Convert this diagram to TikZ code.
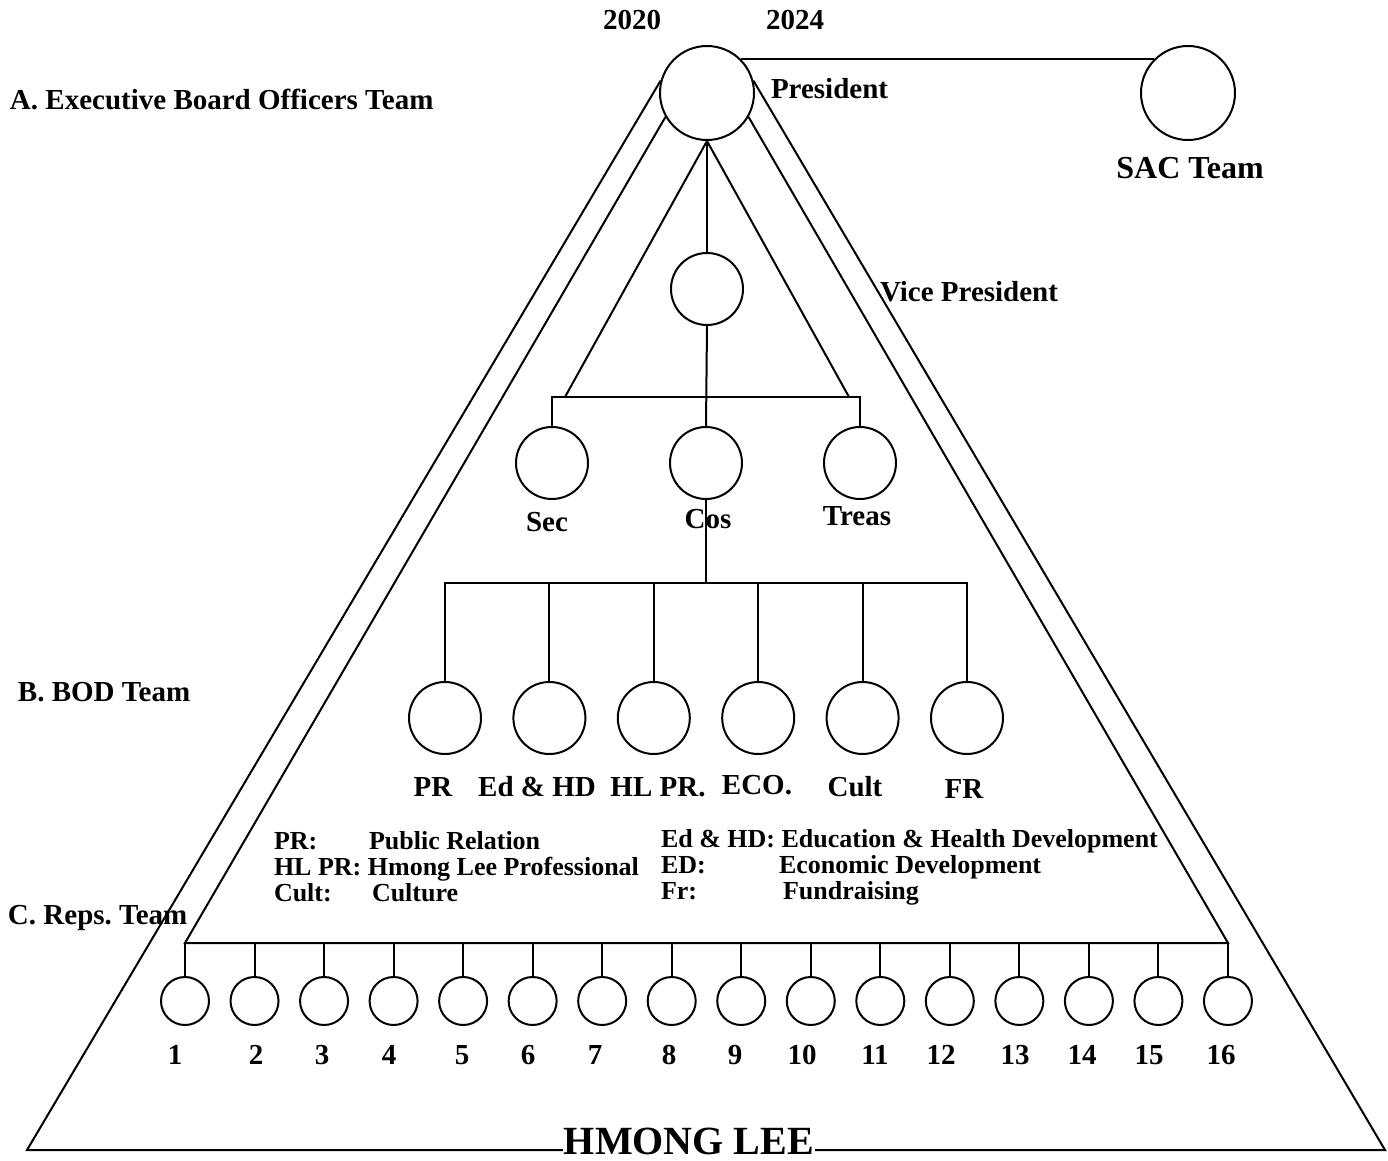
\documentclass[tikz,border=0pt]{standalone}
\usepackage{fontspec}
\setmainfont{Liberation Serif}
\usetikzlibrary{positioning}
\frenchspacing

\begin{document}
\begin{tikzpicture}[x=0.5pt,y=-0.5pt,line width=1pt,node distance=52.2pt,on grid,
    every node/.style={font=\bfseries\fontsize{14.5}{17}\selectfont,inner sep=0pt},
    bigc/.style={circle,draw,minimum size=47pt},
    midc/.style={circle,draw,minimum size=36pt},
    repc/.style={circle,draw,minimum size=24pt},
    lft/.style={anchor=west},
    legend/.style={anchor=base west,font=\bfseries\fontsize{13}{15}\selectfont}]

        \useasboundingbox (0,0) rectangle (1388,1161);

        % circles
        \node[bigc] (pres) at (707,93) {};
        \node[bigc] (sac) at (1188,93) {};
        \node[midc] (vp) at (707,289) {};
        \node[midc] (cos) at (706,463) {};
        \node[midc,node distance=77pt] (sec) [left of=cos] {};
        \node[midc,node distance=77pt] (treas) [right of=cos] {};

        \node[midc] (pr) at (445,718) {};
        \node[midc] (edhd) [right of=pr] {};
        \node[midc] (hlpr) [right of=edhd] {};
        \node[midc] (eco) [right of=hlpr] {};
        \node[midc] (cult) [right of=eco] {};
        \node[midc] (fr) [right of=cult] {};

        \coordinate (exbar) at (706,397);
        \coordinate (exl) at (565,397);
        \coordinate (exr) at (849,397);
        \coordinate (bodbar) at (706,583);
        \coordinate (repl) at (185,943);
        \coordinate (repr) at (1228,943);
        \coordinate (botl) at (27,1150);
        \coordinate (botr) at (1385,1150);

        % triangle
        \draw (pres.165) -- (botl) -- (botr) -- (pres.15);
        \draw (pres.210) -- (repl) -- (repr) -- (pres.330);
        \draw (pres.45) -- (sac.135);

        % executive board
        \draw (pres.south) -- (vp.north);
        \draw (vp.south) -- (cos.north);
        \draw (exl) -- (pres.south) -- (exr);
        \draw (sec.north) |- (exbar) -| (treas.north);

        % bod team
        \draw (cos.south) -- (bodbar);
        \draw (pr.north) |- (bodbar) -| (fr.north);
        \foreach \b in {edhd,hlpr,eco,cult}
            \draw (\b.north) -- (\b.north |- bodbar);

        % reps team
        \foreach \i/\nx in {1/175,2/256,3/322,4/389,5/462,6/528,7/595,8/669,
                            9/735,10/802,11/875,12/941,13/1015,14/1082,15/1149,16/1221} {
            \node[repc] (rep\i) at ({185+69.53*(\i-1)},1001) {};
            \node (num\i) at (\nx,1055) {\i};
            \draw (rep\i.north) -- (rep\i.north |- repl);
        }

        % texts
        \node (y2020) at (632,20) {2020};
        \node (y2024) at (795,20) {2024};
        \node[lft] (teama) at (9,99) {A. Executive Board Officers Team};
        \node[lft] (presl) at (770,89) {President};
        \node[font=\bfseries\fontsize{16}{19}\selectfont] (sacl) at (1190,168) {SAC Team};
        \node[lft] (vpl) at (879,292) {Vice President};
        \node (secl) at (547,522) {Sec};
        \node (cosl) at (708,519) {Cos};
        \node (treasl) at (857,516) {Treas};

        \node[lft] (teamb) at (17,692) {B. BOD Team};
        \node (prl) at (433,787) {PR};
        \node (edhdl) at (537,787) {Ed \& HD};
        \node (hlprl) at (658,787) {HL PR.};
        \node (ecol) at (757,785) {ECO.};
        \node (cultl) at (855,787) {Cult};
        \node (frl) at (964,789) {FR};

        % legend
        \node[legend] (lg1) at (273,849) {PR:};
        \node[legend] (lg1t) at (368,849) {Public Relation};
        \node[legend] (lg2) at (273,875) {HL PR: Hmong Lee Professional};
        \node[legend] (lg3) at (273,901) {Cult:};
        \node[legend] (lg3t) at (371,901) {Culture};
        \node[legend] (lg4) at (660,847) {Ed \& HD: Education \& Health Development};
        \node[legend] (lg5) at (660,873) {ED:};
        \node[legend] (lg5t) at (778,873) {Economic Development};
        \node[legend] (lg6) at (660,899) {Fr:};
        \node[legend] (lg6t) at (782,899) {Fundraising};

        \node[lft] (teamc) at (7,918) {C. Reps. Team};
        \node[fill=white,inner sep=0.5pt,font=\bfseries\fontsize{20}{24}\selectfont] (hmong) at (689,1141) {HMONG LEE};

    \end{tikzpicture}
\end{document}
